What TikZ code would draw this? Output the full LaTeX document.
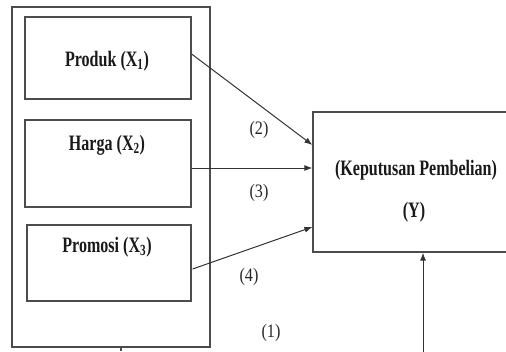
\documentclass[tikz,border=0pt]{standalone}
\usepackage{fontspec}
\setmainfont{Liberation Serif}
\newfontfamily\condfont[FakeStretch=0.73]{Liberation Serif}
\newfontfamily\numfont[FakeStretch=0.85]{Liberation Serif}
\usetikzlibrary{calc,arrows.meta}
\begin{document}
\begin{tikzpicture}[x=1pt,y=-1pt,
  box/.style={draw=black!70,line width=1.2pt,rectangle,inner sep=0pt},
  title/.style={font=\condfont\fontsize{22}{24}\selectfont\bfseries,inner sep=0pt,text=black!90},
  num/.style={font=\numfont\fontsize{19}{21}\selectfont,inner sep=0pt,text=black!85},
  conn/.style={draw=black!80,line width=1pt,-{Latex[length=8pt,width=6pt]}}]
\useasboundingbox (0,0) rectangle (506,351);
\clip (0,0) rectangle (506,351);
% boxes
\node[box,minimum width=198pt,minimum height=340pt] (outer) at (111,177) {};
\node[box,minimum width=166pt,minimum height=82pt] (b1) at (108,58) {};
\node[box,minimum width=166pt,minimum height=87pt] (b2) at (108,163.5) {};
\node[box,minimum width=164pt,minimum height=76pt] (b3) at (109,263) {};
\node[box,minimum width=205pt,minimum height=140pt] (Y) at (415.5,182) {};
% texts
\node[title] (t1) at (107,61) {Produk (X\textsubscript{1})};
\node[title] (t2) at (107,145) {Harga (X\textsubscript{2})};
\node[title] (t3) at (107,247) {Promosi (X\textsubscript{3})};
\node[title] (ty1) at (416,170) {(Keputusan Pembelian)};
\node[title] (ty2) at (414,212) {(Y)};
% labels
\node[num] (l2) at (259,130) {(2)};
\node[num] (l3) at (259,193) {(3)};
\node[num] (l4) at (249,277) {(4)};
\node[num] (l1) at (271,333) {(1)};
% connectors
\draw[conn] ($(b1.east)+(0,-4)$) -- ($(Y.west)+(0,-37)$);
\draw[conn] ($(b2.east)+(0,4.5)$) -- ($(Y.west)+(0,-14)$);
\draw[conn] ($(b3.east)+(1,6)$) -- ($(Y.west)+(0,45)$);
\coordinate (bot) at (423,352);
\draw[conn] (bot) -- (Y.south -| bot);
\coordinate (tick) at (121,351);
\draw[draw=black!70,line width=1.2pt] (outer.south -| tick) -- (tick);
\end{tikzpicture}
\end{document}
